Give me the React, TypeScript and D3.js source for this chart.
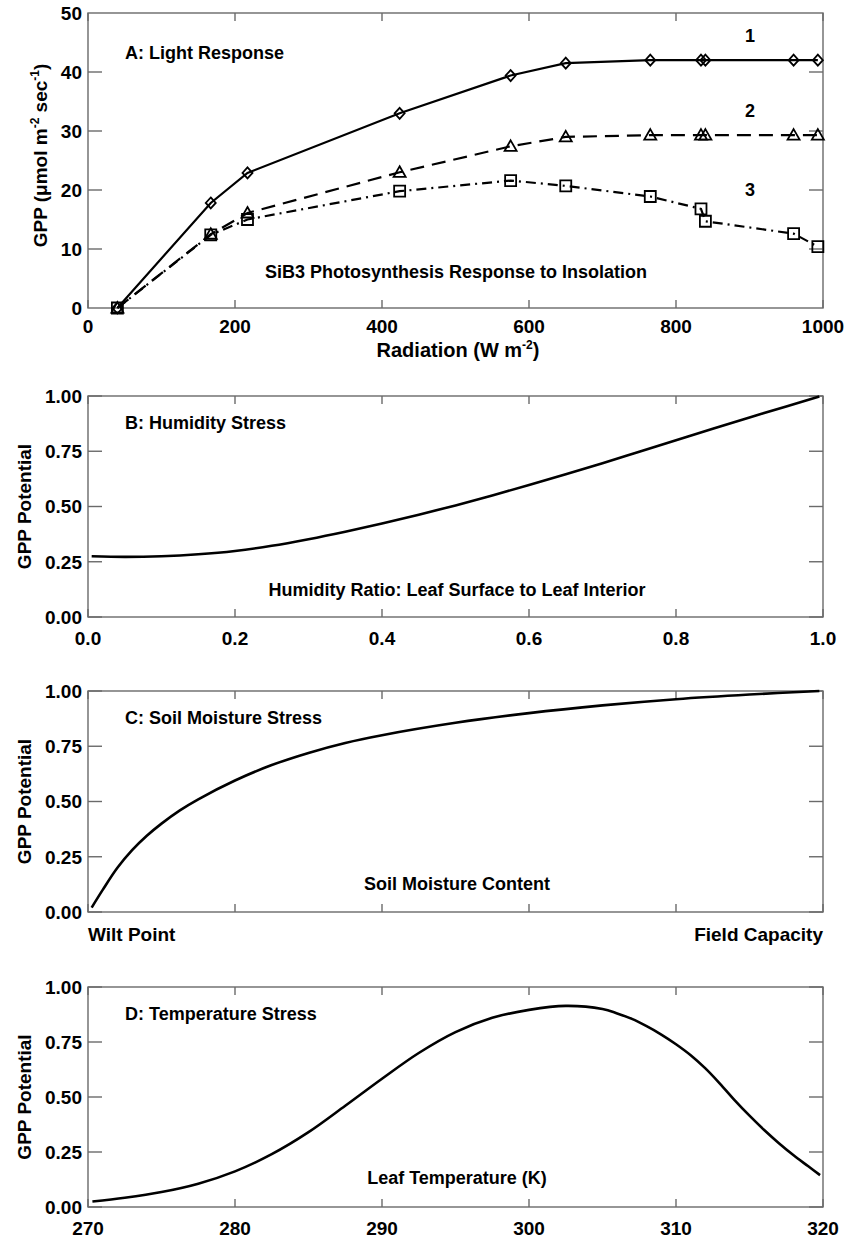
import React from "react";
import * as d3 from "d3";

// Panel A: light response
const radiation = [40, 167, 217, 424, 575, 650, 765, 834, 840, 960, 993];
const gpp1 = [0, 17.8, 22.9, 33.0, 39.4, 41.5, 42.0, 42.0, 42.0, 42.0, 42.0];
const gpp2 = [0, 12.5, 16.1, 23.0, 27.4, 29.0, 29.3, 29.3, 29.3, 29.3, 29.3];
const gpp3 = [0, 12.4, 15.0, 19.8, 21.6, 20.7, 18.9, 16.8, 14.7, 12.6, 10.4];
const radTicks = [0, 200, 400, 600, 800, 1000];
const gppTicks = [0, 10, 20, 30, 40, 50];

// Panel B: humidity stress
const humX = [0.005, 0.05, 0.1, 0.15, 0.2, 0.25, 0.3, 0.35, 0.4, 0.45, 0.5, 0.55, 0.6, 0.65, 0.7, 0.75, 0.8, 0.85, 0.9, 0.95, 0.995];
const humY = [0.275, 0.272, 0.275, 0.284, 0.299, 0.322, 0.352, 0.386, 0.423, 0.463, 0.505, 0.55, 0.597, 0.646, 0.696, 0.748, 0.8, 0.852, 0.903, 0.953, 0.998];
const humTicks = [0, 0.2, 0.4, 0.6, 0.8, 1.0];

// Panel C: soil moisture stress
const soilX = [0.005, 0.02, 0.04, 0.06, 0.08, 0.1, 0.125, 0.15, 0.2, 0.25, 0.3, 0.35, 0.4, 0.5, 0.6, 0.7, 0.8, 0.9, 0.995];
const soilY = [0.02, 0.1, 0.2, 0.28, 0.345, 0.4, 0.46, 0.51, 0.595, 0.665, 0.72, 0.765, 0.8, 0.856, 0.9, 0.935, 0.963, 0.984, 1.0];

// Panel D: temperature stress
const tempX = [270.3, 272.5, 275, 277.5, 280, 282.5, 285, 287.5, 290, 292.5, 295, 297.5, 300, 302.5, 305, 306, 307, 308, 309, 310, 311, 312, 313, 314, 315, 316, 317, 318, 319, 319.8];
const tempY = [0.025, 0.042, 0.068, 0.106, 0.162, 0.24, 0.34, 0.46, 0.583, 0.7, 0.795, 0.86, 0.896, 0.914, 0.9, 0.88, 0.855, 0.822, 0.784, 0.74, 0.69, 0.63, 0.56, 0.485, 0.415, 0.35, 0.29, 0.235, 0.185, 0.145];
const tempTicks = [270, 280, 290, 300, 310, 320];

const potTicks = [0, 0.25, 0.5, 0.75, 1.0];

const FONT = "'Liberation Sans', Arial, Helvetica, sans-serif";
const FRAME = "#6a6a6a";
const L = 88;
const R = 823;

function Frame({ x, y, xTicks, yTicks, xLabels, yFmt, labelGap }) {
  const [y0, y1] = y.range();
  const [x0, x1] = x.range();
  return (
    <g>
      <rect x={x0} y={y1} width={x1 - x0} height={y0 - y1} fill="none" stroke={FRAME} strokeWidth={1.4} />
      {xTicks.map((t, i) => (
        <g key={"x" + i}>
          <line x1={x(t)} x2={x(t)} y1={y0} y2={y0 - 8} stroke={FRAME} strokeWidth={1.4} />
          <line x1={x(t)} x2={x(t)} y1={y1} y2={y1 + 8} stroke={FRAME} strokeWidth={1.4} />
          {xLabels && (
            <text x={x(t)} y={y0 + labelGap} textAnchor="middle" fontSize={19} fontWeight="bold">
              {xLabels(t)}
            </text>
          )}
        </g>
      ))}
      {yTicks.map((t, i) => (
        <g key={"y" + i}>
          <line x1={x0} x2={x0 + 14} y1={y(t)} y2={y(t)} stroke={FRAME} strokeWidth={1.4} />
          <line x1={x1} x2={x1 - 14} y1={y(t)} y2={y(t)} stroke={FRAME} strokeWidth={1.4} />
          <text x={x0 - 6} y={y(t)} dy="0.36em" textAnchor="end" fontSize={19} fontWeight="bold">
            {yFmt(t)}
          </text>
        </g>
      ))}
    </g>
  );
}

function PotentialTitle({ y }) {
  const [y0, y1] = y.range();
  return (
    <text
      transform={`translate(31,${(y0 + y1) / 2}) rotate(-90)`}
      textAnchor="middle"
      fontSize={19}
      fontWeight="bold"
    >
      GPP Potential
    </text>
  );
}

function CurvePanel({ top, bottom, domain, xs, ys, ticks, xFmt, title, note, noteY }) {
  const x = d3.scaleLinear().domain(domain).range([L, R]);
  const y = d3.scaleLinear().domain([0, 1]).range([bottom, top]);
  const line = d3
    .line()
    .x((d) => x(d[0]))
    .y((d) => y(d[1]))
    .curve(d3.curveCatmullRom.alpha(0.5));
  const pts = xs.map((v, i) => [v, ys[i]]);
  return (
    <g>
      <Frame x={x} y={y} xTicks={ticks} yTicks={potTicks} xLabels={xFmt} yFmt={d3.format(".2f")} labelGap={28} />
      <path d={line(pts)} fill="none" stroke="#000" strokeWidth={2.6} />
      <text x={125} y={top + 33} fontSize={18} fontWeight="bold">{title}</text>
      <text x={457} y={noteY} textAnchor="middle" fontSize={18} fontWeight="bold">{note}</text>
      <PotentialTitle y={y} />
    </g>
  );
}

function LightPanel() {
  const top = 13;
  const bottom = 308;
  const x = d3.scaleLinear().domain([0, 1000]).range([L, R]);
  const y = d3.scaleLinear().domain([0, 50]).range([bottom, top]);
  const line = d3
    .line()
    .x((d) => x(d[0]))
    .y((d) => y(d[1]));
  const series = [
    { vals: gpp1, dash: null, marker: "diamond", label: "1" },
    { vals: gpp2, dash: "14,8", marker: "triangle", label: "2" },
    { vals: gpp3, dash: "10,5,2,5", marker: "square", label: "3" },
  ];
  const labelY = [42, 29.3, 16];
  const markerPath = {
    diamond: "M0,-5.5L5,0L0,5.5L-5,0Z",
    triangle: "M0,-6L6,4.5L-6,4.5Z",
    square: "M-5.5,-5.5H5.5V5.5H-5.5Z",
  };
  return (
    <g>
      <Frame x={x} y={y} xTicks={radTicks} yTicks={gppTicks.slice(1, 5)} xLabels={(t) => t} yFmt={(t) => t} labelGap={25} />
      <text x={L - 6} y={y(0)} dy="0.36em" textAnchor="end" fontSize={19} fontWeight="bold">0</text>
      <text x={L - 6} y={y(50)} dy="0.36em" textAnchor="end" fontSize={19} fontWeight="bold">50</text>
      {series.map((s, si) => {
        const pts = radiation.map((r, i) => [r, s.vals[i]]);
        return (
          <g key={si}>
            <path d={line(pts)} fill="none" stroke="#000" strokeWidth={2.2} strokeDasharray={s.dash || undefined} />
            {pts.map((p, i) => (
              <path
                key={i}
                d={markerPath[s.marker]}
                transform={`translate(${x(p[0])},${y(p[1])})`}
                fill="none"
                stroke="#000"
                strokeWidth={1.8}
              />
            ))}
            <text x={750} y={y(labelY[si]) - 18} textAnchor="middle" fontSize={18} fontWeight="bold">
              {s.label}
            </text>
          </g>
        );
      })}
      <text x={125} y={59} fontSize={18} fontWeight="bold">A: Light Response</text>
      <text x={456} y={278} textAnchor="middle" fontSize={18} fontWeight="bold">
        SiB3 Photosynthesis Response to Insolation
      </text>
      <text x={458} y={357} textAnchor="middle" fontSize={20} fontWeight="bold">
        Radiation (W m<tspan dy="-8" fontSize={12}>-2</tspan><tspan dy="8">)</tspan>
      </text>
      <text transform={`translate(47,${(top + bottom) / 2 - 5}) rotate(-90)`} textAnchor="middle" fontSize={19} fontWeight="bold">
        GPP (μmol m<tspan dy="-8" fontSize={12}>-2</tspan>
        <tspan dy="8"> sec</tspan>
        <tspan dy="-8" fontSize={12}>-1</tspan>
        <tspan dy="8">)</tspan>
      </text>
    </g>
  );
}

export default function App() {
  return (
    <svg
      width={850}
      height={1238}
      style={{ position: "absolute", left: 0, top: 0, background: "#fff" }}
      fontFamily={FONT}
    >
      <rect width={850} height={1238} fill="#fff" />
      <LightPanel />
      <CurvePanel
        top={396}
        bottom={617}
        domain={[0, 1]}
        xs={humX}
        ys={humY}
        ticks={humTicks}
        xFmt={d3.format(".1f")}
        title="B: Humidity Stress"
        note="Humidity Ratio: Leaf Surface to Leaf Interior"
        noteY={596}
      />
      <CurvePanel
        top={691}
        bottom={912}
        domain={[0, 1]}
        xs={soilX}
        ys={soilY}
        ticks={humTicks}
        xFmt={null}
        title="C: Soil Moisture Stress"
        note="Soil Moisture Content"
        noteY={890}
      />
      <text x={L} y={941} fontSize={19} fontWeight="bold">Wilt Point</text>
      <text x={R} y={941} textAnchor="end" fontSize={19} fontWeight="bold">Field Capacity</text>
      <CurvePanel
        top={987}
        bottom={1207}
        domain={[270, 320]}
        xs={tempX}
        ys={tempY}
        ticks={tempTicks}
        xFmt={(t) => t}
        title="D: Temperature Stress"
        note="Leaf Temperature (K)"
        noteY={1184}
      />
    </svg>
  );
}
